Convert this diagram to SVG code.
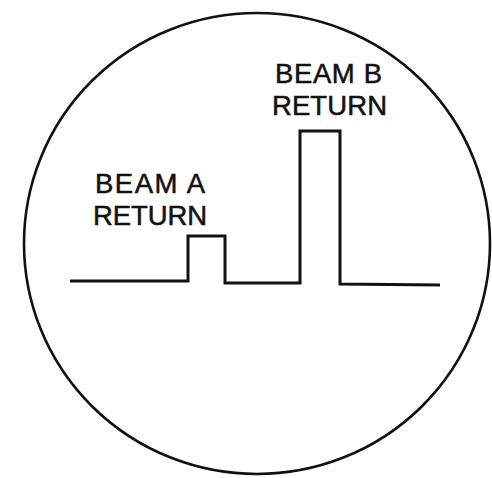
<svg xmlns="http://www.w3.org/2000/svg" width="492" height="478" viewBox="0 0 492 478">
<style>
.lbl{font-family:"Liberation Sans",Arial,sans-serif;font-size:27.5px;fill:#111;stroke:#111;stroke-width:0.5}
.ln{fill:none;stroke:#111;stroke-width:3;stroke-linejoin:miter}
</style>
<rect width="492" height="478" fill="#fff"/>
<g id="scope">
<ellipse cx="257" cy="243.5" rx="233" ry="230.5" fill="none" stroke="#111" stroke-width="2.6"/>
</g>
<g id="connectors">
<path class="ln" d="M70,281 L188,281 L188,236 L225,236 L225,283 L300,283 L300,131 L340,131 L340,284 L440,285"/>
</g>
<g id="beamA">
<text class="lbl" x="95" y="193" textLength="110" lengthAdjust="spacing">BEAM A</text>
<text class="lbl" x="93" y="225" textLength="114" lengthAdjust="spacing">RETURN</text>
</g>
<g id="beamB">
<text class="lbl" x="275" y="83" textLength="107" lengthAdjust="spacing">BEAM B</text>
<text class="lbl" x="272" y="115" textLength="115" lengthAdjust="spacing">RETURN</text>
</g>
</svg>
